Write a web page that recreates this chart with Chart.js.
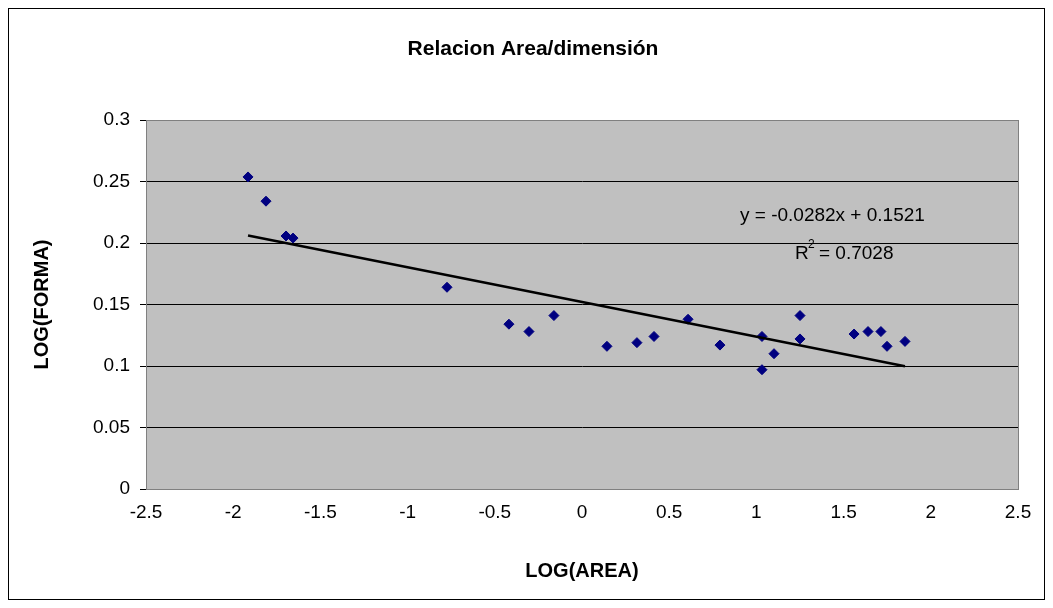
<!DOCTYPE html>
<html><head><meta charset="utf-8">
<script src="https://cdn.jsdelivr.net/npm/chart.js@4"></script>
<style>html,body{margin:0;background:#fff}canvas{display:block}</style>
</head><body>
<canvas id="c" width="1053" height="608"></canvas>
<script>
const logArea = [-1.915,-1.812,-1.697,-1.657,-0.774,-0.419,-0.304,-0.161,0.143,0.315,0.413,0.608,0.791,1.032,1.032,1.101,1.25,1.25,1.56,1.64,1.714,1.749,1.852];
const logForma = [0.2537,0.234,0.2057,0.204,0.164,0.134,0.128,0.141,0.116,0.119,0.124,0.138,0.117,0.124,0.097,0.110,0.141,0.122,0.126,0.128,0.128,0.116,0.120];
const slope = -0.0282, intercept = 0.1521;
const xMinData = Math.min(...logArea), xMaxData = Math.max(...logArea);
const trend = [xMinData, xMaxData].map(x => ({x, y: slope*x + intercept}));
const FONT = '"Liberation Sans", Arial, sans-serif';
const fmt = v => String(Math.round(v*100)/100);

const frame = {
  id: 'frame',
  beforeDraw(chart) {
    const {ctx, chartArea: a} = chart;
    ctx.save();
    ctx.fillStyle = '#c0c0c0';
    ctx.fillRect(a.left, a.top, a.right-a.left, a.bottom-a.top);
    ctx.restore();
  },
  afterDraw(chart) {
    const {ctx, chartArea: a} = chart;
    ctx.save();
    ctx.strokeStyle = '#000'; ctx.lineWidth = 1;
    ctx.strokeRect(8.5, 8.5, 1036, 591);
    ctx.strokeStyle = '#808080';
    ctx.strokeRect(a.left+0.5, a.top+0.5, a.right-a.left, a.bottom-a.top);
    ctx.fillStyle = '#000';
    ctx.font = 'bold 21px ' + FONT;
    ctx.textAlign = 'center';
    ctx.fillText('Relacion Area/dimensión', 533, 55);
    ctx.font = '19px ' + FONT;
    ctx.textAlign = 'left';
    ctx.fillText('y = -0.0282x + 0.1521', 740, 221);
    ctx.fillText('R', 795, 259);
    ctx.fillText('= 0.7028', 819, 259);
    ctx.font = '12px ' + FONT;
    ctx.fillText('2', 808, 248);
    ctx.restore();
  }
};

const tickFont = { size: 19, family: FONT };
const titleFont = { size: 20, weight: 'bold', family: FONT };

new Chart(document.getElementById('c'), {
  type: 'scatter',
  data: { datasets: [
    { data: logArea.map((x,i)=>({x, y: logForma[i]})), pointStyle: 'rectRot', pointRadius: 5,
      backgroundColor: '#000080', borderColor: '#000080', borderWidth: 1, order: 1 },
    { type: 'line', data: trend, borderColor: '#000', borderWidth: 2.5, pointRadius: 0, order: 0 }
  ]},
  options: {
    responsive: false, animation: false,
    layout: { padding: { top: 120, right: 35, left: 0, bottom: 0 } },
    plugins: { legend: { display: false }, tooltip: { enabled: false } },
    scales: {
      x: { type: 'linear', min: -2.5, max: 2.5,
        ticks: { stepSize: 0.5, color: '#000', font: tickFont, padding: 4, callback: fmt },
        grid: { display: false },
        border: { color: '#000' },
        title: { display: true, text: 'LOG(AREA)', color: '#000', font: titleFont, padding: { top: 0, bottom: 25 } },
        afterFit(s) { s.height = 119; } },
      y: { min: 0, max: 0.3,
        ticks: { stepSize: 0.05, color: '#000', font: tickFont, padding: 10, callback: fmt },
        grid: { color: '#000', tickColor: '#000', tickLength: 6 },
        border: { color: '#000' },
        title: { display: true, text: 'LOG(FORMA)', color: '#000', font: titleFont, padding: { top: 30 } },
        afterFit(s) { s.width = 146; } }
    }
  },
  plugins: [frame]
});
</script>
</body></html>
